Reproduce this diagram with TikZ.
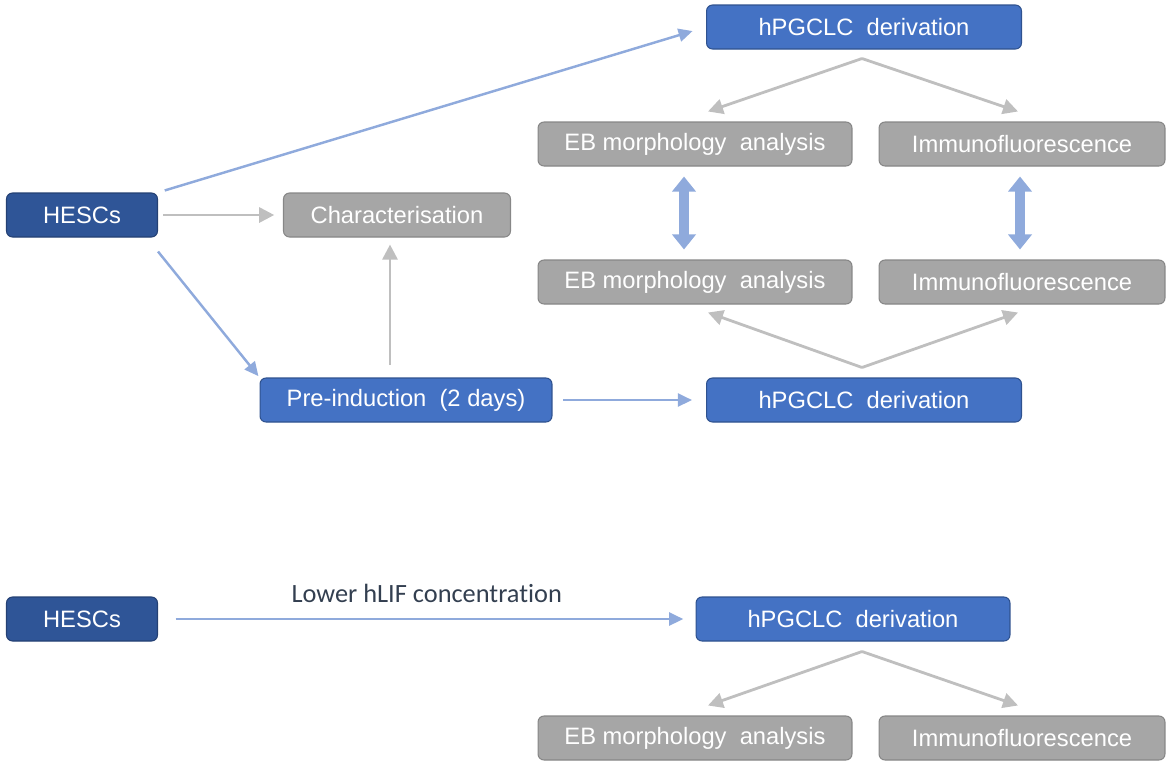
\documentclass[tikz,border=0pt]{standalone}
\usepackage{fontspec}
\setmainfont{Liberation Sans}
\newfontfamily\labelfont[Ligatures={NoCommon}]{Carlito}
\usepackage{xcolor}
\definecolor{DarkBlue}{RGB}{47,85,151}
\definecolor{DarkBorder}{RGB}{36,64,115}
\definecolor{MidBlue}{RGB}{68,114,196}
\definecolor{MidBorder}{RGB}{47,82,143}
\definecolor{BoxGray}{RGB}{166,166,166}
\definecolor{GrayBorder}{RGB}{135,135,135}
\definecolor{ArrowGray}{RGB}{191,191,191}
\definecolor{ArrowBlue}{RGB}{143,170,220}
\definecolor{LabelNavy}{RGB}{51,63,80}
\usetikzlibrary{arrows.meta, positioning, calc}
\tikzset{
  % Generic rounded box
  flowbox/.style={
    rectangle, rounded corners=0.12cm,
    draw=MidBorder, line width=0.6pt,
    fill=MidBlue, text=white,
    align=center,
    minimum height=0.88cm,
    font=\fontsize{13.5}{16}\selectfont,
    inner sep=2pt
  },
  % Colored box variants
  flowbox dark/.style={flowbox, fill=DarkBlue, draw=DarkBorder},
  flowbox gray/.style={flowbox, fill=BoxGray, draw=GrayBorder},
  % Arrows
  garr/.style={-{Triangle[length=0.3cm,width=0.3cm]}, line width=1.6pt, ArrowGray},
  barr/.style={-{Triangle[length=0.28cm,width=0.26cm]}, line width=1.4pt, ArrowBlue},
  dbarr/.style={{Triangle[length=0.3cm,width=0.46cm]}-{Triangle[length=0.3cm,width=0.46cm]}, line width=0.2cm, ArrowBlue},
  % Edge label
  elabel/.style={font=\labelfont\fontsize{15}{18}\selectfont, text=LabelNavy},
}
\begin{document}
\begin{tikzpicture}[x=0.02cm, y=-0.02cm]
  \useasboundingbox (0,0) rectangle (1167,762);

  %% Top branch
  \node[flowbox dark, minimum width=3.02cm] (hesc) at (82,215) {HESCs};
  \node[flowbox gray, minimum width=4.54cm] (char) at (397,215) {Characterisation};
  \node[flowbox, minimum width=5.84cm] (pre) at (406,400) {Pre-induction\ \ (2 days)};
  \node[flowbox, minimum width=6.3cm] (hpa) at (864,27) {hPGCLC\ \ derivation};
  \node[flowbox, minimum width=6.3cm] (hpb) at (864,400) {hPGCLC\ \ derivation};

  %% Analysis boxes
  \node[flowbox gray, minimum width=6.28cm] (eba) at (695,144) {EB morphology\ \ analysis};
  \node[flowbox gray, minimum width=5.72cm] (ima) at (1022,144) {Immunofluorescence};
  \node[flowbox gray, minimum width=6.28cm] (ebb) at (695,282) {EB morphology\ \ analysis};
  \node[flowbox gray, minimum width=5.72cm] (imb) at (1022,282) {Immunofluorescence};

  %% Bottom branch
  \node[flowbox dark, minimum width=3.02cm] (hescl) at (82,619) {HESCs};
  \node[flowbox, minimum width=6.28cm] (hpc) at (853,619) {hPGCLC\ \ derivation};
  \node[flowbox gray, minimum width=6.28cm] (ebc) at (695,738) {EB morphology\ \ analysis};
  \node[flowbox gray, minimum width=5.72cm] (imc) at (1022,738) {Immunofluorescence};

  %% Helper points
  \coordinate (fa) at ($(hpa.south)+(-2,9)$);
  \coordinate (fb) at ($(hpb.north)+(-2,-10)$);
  \coordinate (fc) at ($(hpc.south)+(9,10)$);
  \coordinate (hs) at ($(hesc.south east)+(0,14)$);
  \coordinate (pc) at ($(pre.north)+(-16,0)$);

  %% Connectors from HESCs
  \draw[barr, shorten <=4pt, shorten >=8pt] (hesc.north east) -- (hpa.west);
  \draw[garr, shorten <=3pt, shorten >=5pt] (hesc.east) -- (char.west);
  \draw[barr, shorten >=1pt] (hs) -- (pre.north west);
  \draw[garr, shorten <=7pt, shorten >=4pt] (pc) -- (pc |- char.south);
  \draw[barr, shorten <=6pt, shorten >=8pt] (pre.east) -- (hpb.west);

  %% Fans to analyses
  \draw[garr] (fa) -- ($(eba.north)+(13,-10)$);
  \draw[garr] (fa) -- ($(ima.north)+(-4,-10)$);
  \draw[garr] (fb) -- ($(ebb.south)+(13,8)$);
  \draw[garr] (fb) -- ($(imb.south)+(-4,8)$);
  \draw[garr] (fc) -- ($(ebc.north)+(13,-10)$);
  \draw[garr] (fc) -- ($(imc.north)+(-4,-10)$);

  %% Comparisons
  \draw[dbarr] ($(eba.south)+(-11,10)$) -- ($(ebb.north)+(-11,-10)$);
  \draw[dbarr] ($(ima.south)+(-2,10)$) -- ($(imb.north)+(-2,-10)$);

  %% Lower hLIF
  \draw[barr, shorten <=10pt, shorten >=7pt] (hescl.east) -- node[elabel, above=5pt]{Lower hLIF concentration} (hpc.west);

\end{tikzpicture}
\end{document}
